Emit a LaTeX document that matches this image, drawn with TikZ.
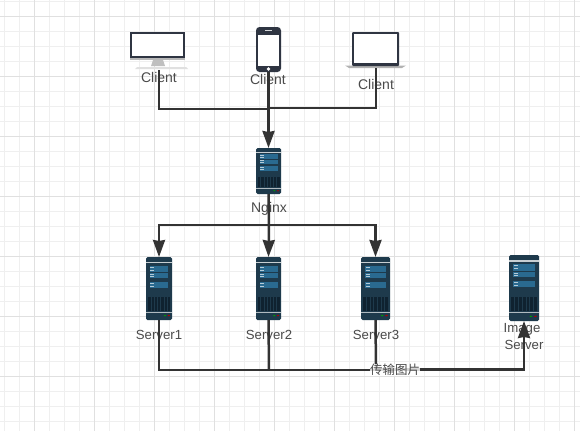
\documentclass[tikz,border=0pt]{standalone}
\usepackage{fontspec}
\setmainfont{Liberation Sans}
\newfontfamily\cjkfont{Noto Sans CJK SC}
\usetikzlibrary{arrows.meta}
\definecolor{gridminor}{HTML}{EFEFEF}
\definecolor{gridmajor}{HTML}{E0E0E0}
\definecolor{wire}{HTML}{333333}
\definecolor{labelgray}{HTML}{4A4A4A}
\definecolor{srvdark}{HTML}{1E3A4C}
\definecolor{srvpanel}{HTML}{2A6A90}
\definecolor{srvvent}{HTML}{0F2230}
\definecolor{devdark}{HTML}{2F3542}
\tikzset{
  label text/.style={text=labelgray,font=\fontsize{14}{16}\selectfont,inner sep=0pt},
  srv text/.style={text=labelgray,font=\fontsize{13.2}{16}\selectfont,inner sep=0pt},
  conn/.style={draw=wire,line width=2.5pt},
  connarrow/.style={conn,-{Stealth[width=12pt,length=17pt,inset=1pt]}},
}
% #1 name, #2 left, #3 top, #4 width, #5 height
\newcommand{\srvicon}[5]{%
  \node[inner sep=0pt,outer sep=0pt,minimum width=#4pt,minimum height=#5pt] (#1) at ({#2+#4/2},{#3+#5/2}) {};
  \begin{scope}[shift={(#2,#3)},x=#4pt,y=-#5pt]
    \fill[srvdark,rounded corners=1.5pt] (0,0) rectangle (1,1);
    \fill[white!75!srvdark] (0,.08) rectangle (1,.1);
    \foreach \a/\b in {.14/.235,.25/.34,.395/.49}{
      \fill[srvpanel] (.14,\a) rectangle (.86,\b);
      \fill[white!65!srvpanel] (.16,{\a+.018}) rectangle (.31,{\a+.034});
      \fill[white!65!srvpanel] (.16,{\b-.034}) rectangle (.31,{\b-.018});
    }
    \fill[srvvent] (.06,.64) rectangle (.94,.855);
    \foreach \k in {1,...,6}{\fill[srvdark] ({.06+.126*\k-.012},.64) rectangle ({.06+.126*\k+.012},.855);}
    \fill[white!65!srvdark] (0,.865) rectangle (1,.88);
    \fill[green!60!black] (.73,.93) circle[x radius=.05,y radius=.012];
    \fill[red!70!black] (.88,.93) circle[x radius=.05,y radius=.012];
  \end{scope}}
\begin{document}
\begin{tikzpicture}[x=1pt,y=-1pt]
\useasboundingbox (0,0) rectangle (580,431);
\fill[white] (0,0) rectangle (580,431);
% grid
\foreach \gx in {4,19,...,579}{\draw[gridminor,line width=1pt] (\gx.3,0) -- (\gx.3,431);}
\foreach \gy in {1,16,...,431}{\draw[gridminor,line width=1pt] (0,\gy) -- (580,\gy);}
\foreach \gx in {34,94,...,579}{\draw[gridmajor,line width=1pt] (\gx.3,0) -- (\gx.3,431);}
\foreach \gy in {16,76,...,431}{\draw[gridmajor,line width=1pt] (0,\gy) -- (580,\gy);}
% desktop
\node[inner sep=0pt,outer sep=0pt,minimum width=58pt,minimum height=38pt] (desktop) at (159,51) {};
\fill[black!25] (153,60) -- (163,60) -- (165,66) -- (151,66) -- cycle;
\fill[black!12] (135,69) -- (137,67) -- (186,67) -- (188,69) -- cycle;
\fill[black!28] (130,57) rectangle (185,60);
\fill[devdark] (130,32) rectangle (185,58);
\fill[white] (132,34) rectangle (183,56);
% phone
\node[inner sep=0pt,outer sep=0pt,minimum width=25pt,minimum height=45pt] (phone) at (268.5,49.5) {};
\fill[devdark,rounded corners=3.5pt] (256,27) rectangle (281,72);
\fill[white] (258,35) rectangle (279,66);
\fill[white!80!devdark] (265,30) rectangle (272,31);
\fill[white] (268.5,69) circle[radius=1.8];
% laptop
\node[inner sep=0pt,outer sep=0pt,minimum width=60pt,minimum height=36pt] (laptop) at (376,50) {};
\fill[black!30] (345,65.5) -- (406,65.5) -- (402,68) -- (349,68) -- cycle;
\fill[devdark,rounded corners=1pt] (352,32) rectangle (399,66);
\fill[white] (354,34) rectangle (397,63);
% servers
\srvicon{nginx}{256}{148}{25}{46}
\srvicon{srvone}{146}{257}{26}{63}
\srvicon{srvtwo}{256}{257}{25}{63}
\srvicon{srvthree}{361}{257}{29}{63}
\srvicon{imgsrv}{509}{255}{30}{66}
% labels
\node[label text] (lc1) at (159,77) {Client};
\node[label text] (lc2) at (268,79) {Client};
\node[label text] (lc3) at (376,84) {Client};
\node[label text] (lng) at (269,209) {Nginx};
\node[srv text] (ls1) at (159,335) {Server1};
\node[srv text] (ls2) at (269,335) {Server2};
\node[srv text] (ls3) at (376,335) {Server3};
\node[srv text] (lim) at (522,329) {Image};
\node[srv text] (lis) at (524,345) {Server};
% junctions
\coordinate (jtopl) at (269,109);
\coordinate (jtopr) at (269,108);
\coordinate (jmid) at (269,225);
\coordinate (jbot) at (269,370);
\coordinate (jbotr) at (376,369);
% connectors
\draw[conn] (desktop.south) |- (jtopl);
\draw[conn] (laptop.south) |- (jtopr);
\draw[connarrow] (phone.south) -- (nginx.north);
\draw[conn] (nginx.south) -- (jmid);
\draw[connarrow] (jmid) -| (srvone.north);
\draw[connarrow] (jmid) -| (srvthree.north);
\draw[connarrow] (jmid) -- (srvtwo.north);
\draw[conn] (srvone.south) |- (jbot);
\draw[conn] (srvtwo.south) -- (jbot);
\draw[conn] (srvthree.south) -- (jbotr);
\draw[connarrow] (jbot) -| (imgsrv.south);
\draw[conn] (jbotr) -- (jbotr -| imgsrv.south);
\node[text=labelgray,font=\cjkfont\fontsize{12.5}{14}\selectfont,fill=white,fill opacity=.8,text opacity=1,inner sep=0pt] (ltrans) at (395,370) {传输图片};
\end{tikzpicture}
\end{document}
